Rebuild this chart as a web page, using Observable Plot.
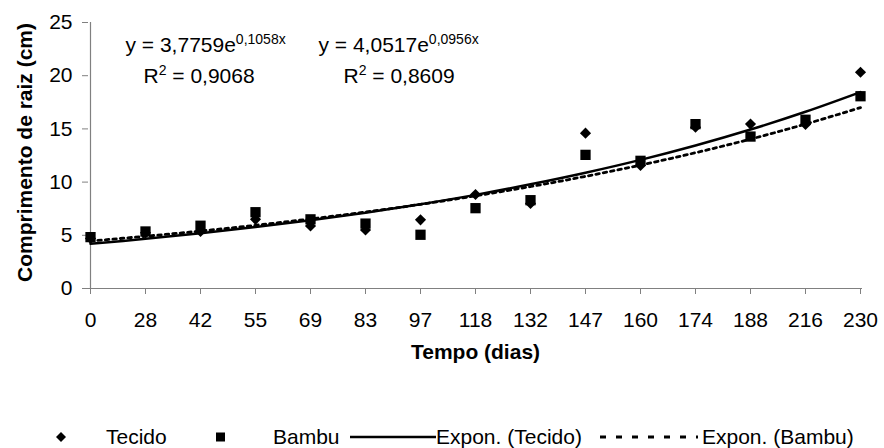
<!DOCTYPE html>
<html><head><meta charset="utf-8">
<script src="https://cdn.jsdelivr.net/npm/d3@7"></script>
<script src="https://cdn.jsdelivr.net/npm/@observablehq/plot@0.6"></script>
<style>
html,body{margin:0;padding:0;background:#fff;overflow:hidden;}
body{width:884px;height:448px;font-family:Arial,"Liberation Sans",sans-serif;}
#legend{position:relative;top:3px;height:28px;font-size:21px;color:#000;}
#legend .it{position:absolute;top:0;height:28px;line-height:28px;white-space:nowrap;}
#legend svg{position:absolute;top:0;}
</style></head><body>
<div id="chart"></div>
<div id="legend"></div>
<script>
// Categories (x axis)
const days = ["0","28","42","55","69","83","97","118","132","147","160","174","188","216","230"];
// Observed series
const tecido = [4.7,5.25,5.36,6.5,5.87,5.5,6.45,8.83,8.0,14.6,11.56,15.16,15.45,15.41,20.33];
const bambu  = [4.83,5.36,5.9,7.17,6.5,6.1,5.05,7.55,8.3,12.56,12.0,15.45,14.28,15.86,18.07];
// Exponential trend lines (values at each category)
const trendTecido = [4.20,4.67,5.19,5.77,6.41,7.12,7.92,8.80,9.79,10.88,12.09,13.44,14.94,16.61,18.46];
const trendBambu  = [4.46,4.91,5.40,5.94,6.54,7.19,7.91,8.71,9.58,10.54,11.60,12.76,14.04,15.45,17.00];
// Ticks
const yTicks = [0,5,10,15,20,25];
// Equation texts
const eqTecido = ["y = 3,7759e", "0,1058x", "0,9068"];
const eqBambu  = ["y = 4,0517e", "0,0956x", "0,8609"];
const legendLabels = ["Tecido","Bambu","Expon. (Tecido)","Expon. (Bambu)"];

const rows = days.map((d,i)=>({day:d, tecido:tecido[i], bambu:bambu[i], tT:trendTecido[i], tB:trendBambu[i]}));
const FONT = 'Arial, "Liberation Sans", sans-serif';

const chart = Plot.plot({
  width: 884, height: 420,
  marginLeft: 88, marginRight: 22, marginTop: 22, marginBottom: 132,
  style: {fontFamily: FONT, fontSize: "21px", color: "#000", background: "#fff", overflow: "visible"},
  x: {type: "point", domain: days, padding: 0, axis: null},
  y: {domain: [0, 25], axis: null},
  marks: [
    Plot.ruleY([0], {stroke: "#808080", strokeWidth: 1.2}),
    Plot.ruleX([days[0]], {stroke: "#808080", strokeWidth: 1.2}),
    Plot.axisX({tickSize: 6, tickPadding: 18, stroke: "#808080", fontSize: 21, label: null}),
    Plot.axisY({ticks: yTicks, tickSize: 6, tickPadding: 10, stroke: "#808080", fontSize: 21, label: null}),
    Plot.dot(rows, {x: "day", y: "tecido", symbol: "diamond2", r: 5, fill: "#000"}),
    Plot.dot(rows, {x: "day", y: "bambu", symbol: "square", r: 5.8, fill: "#000"}),
    Plot.line(rows, {x: "day", y: "tT", curve: "catmull-rom", stroke: "#000", strokeWidth: 2.5}),
    Plot.line(rows, {x: "day", y: "tB", curve: "catmull-rom", stroke: "#000", strokeWidth: 2.8, strokeDasharray: "3.5,4"}),
    Plot.text([eqTecido[0]], {frameAnchor: "top-left", dx: 37, dy: 29, textAnchor: "start", lineAnchor: "bottom", fontSize: 21}),
    Plot.text(["R=" + eqTecido[2]], {frameAnchor: "top-left", dx: 55, dy: 60, textAnchor: "start", lineAnchor: "bottom", fontSize: 21}),
    Plot.text([eqBambu[0]], {frameAnchor: "top-left", dx: 230, dy: 29, textAnchor: "start", lineAnchor: "bottom", fontSize: 21}),
    Plot.text(["R=" + eqBambu[2]], {frameAnchor: "top-left", dx: 255, dy: 60, textAnchor: "start", lineAnchor: "bottom", fontSize: 21}),
    Plot.text(["Comprimento de raiz (cm)"], {frameAnchor: "left", textAnchor: "middle", rotate: -90, dx: -63, dy: -3, fontWeight: "bold", fontSize: 21}),
    Plot.text(["Tempo (dias)"], {frameAnchor: "bottom", dy: 70, fontWeight: "bold", fontSize: 21})
  ]
});
document.getElementById("chart").appendChild(chart);

// superscripts
d3.select(chart).selectAll("text").each(function(){
  const t = this.textContent;
  const sel = d3.select(this);
  [eqTecido, eqBambu].forEach(eq => {
    if (t === eq[0]) {
      sel.append("tspan").attr("dy", -8).attr("font-size", "14px").text(eq[1]);
    } else if (t === "R=" + eq[2]) {
      sel.text(null);
      sel.append("tspan").text("R");
      sel.append("tspan").attr("dy", -8).attr("font-size", "14px").text("2");
      sel.append("tspan").attr("dy", 8).text(" = " + eq[2]);
    }
  });
});

// legend
const lg = document.getElementById("legend");
function item(html, left){ const d=document.createElement("div"); d.className="it"; d.style.left=left+"px"; d.innerHTML=html; lg.appendChild(d); }
function sym(svg, left, w){ const s=document.createElementNS("http://www.w3.org/2000/svg","svg"); s.setAttribute("width",w); s.setAttribute("height",28); s.style.left=left+"px"; s.innerHTML=svg; lg.appendChild(s); }
sym('<polygon points="5,9 10,14 5,19 0,14" fill="#000"/>', 56, 10);
item(legendLabels[0], 106);
sym('<rect x="0" y="9.5" width="9" height="9" fill="#000"/>', 216, 10);
item(legendLabels[1], 273);
sym('<line x1="0" y1="14" x2="86" y2="14" stroke="#000" stroke-width="2.5"/>', 350, 86);
item(legendLabels[2], 436);
sym('<line x1="2" y1="14" x2="100" y2="14" stroke="#000" stroke-width="2.8" stroke-dasharray="6,10"/>', 598, 100);
item(legendLabels[3], 702);
</script>
</body></html>
